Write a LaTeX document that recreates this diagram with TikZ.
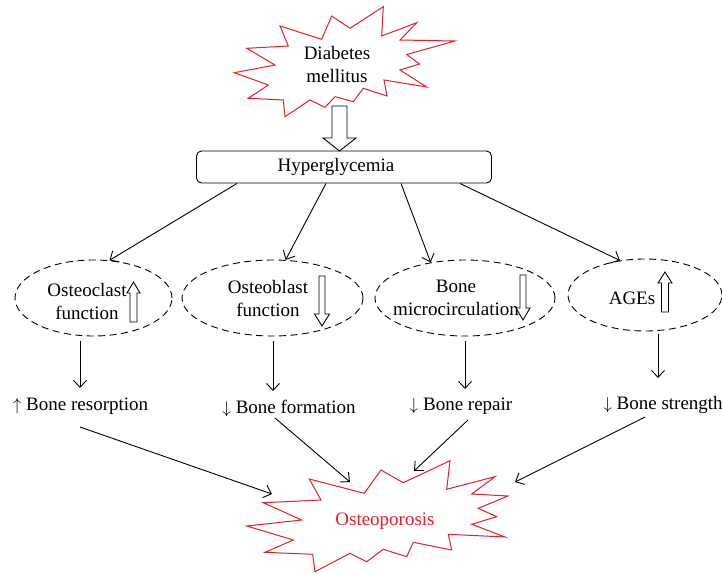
\documentclass[tikz,border=0pt]{standalone}
\usepackage{fontspec}
\setmainfont{Liberation Serif}
\usetikzlibrary{arrows.meta,shapes.geometric,calc}
\definecolor{burst}{RGB}{232,30,38}
\tikzset{
  arr/.style={line width=0.9pt,-{Straight Barb[length=7pt,width=13pt,line width=0.9pt]}},
  burstline/.style={draw=burst,line width=1pt,line join=miter,fill=white},
  dellipse/.style={ellipse,draw,dash pattern=on 7pt off 4.5pt,line width=0.9pt,inner sep=0pt},
  harrow/.style={draw,line width=0.9pt,fill=white,line join=miter},
  pics/blockarrow/.style args={#1,#2,#3,#4}{code={
    \path[harrow] (-#2/2,0) -- (#2/2,0) -- (#2/2,#1-#4) -- (#3/2,#1-#4) -- (0,#1)
      -- (-#3/2,#1-#4) -- (-#2/2,#1-#4) -- cycle;}},
  lbl/.style={inner sep=0pt,anchor=base},
  txt/.style={inner sep=0pt,align=center}
}
\begin{document}
\begin{tikzpicture}[x=1pt,y=-1pt,font=\fontsize{19}{23}\selectfont]
\useasboundingbox (0,0) rectangle (722,573);

% Diabetes mellitus starburst
\draw[burstline] (234.3,72.7) -- (275,65) -- (246.7,48.3) -- (288.3,46) -- (280,26)
  -- (321.7,39.3) -- (331.7,16) -- (350,28.3) -- (383.3,6.7) -- (381.7,36)
  -- (416.7,22.7) -- (400,40) -- (455,41) -- (406.7,54.5) -- (419.5,64) -- (400,70)
  -- (426.7,87) -- (384,80) -- (387,96) -- (363.3,88.3) -- (353.3,101.7)
  -- (335,96.7) -- (325,107.3) -- (310,100) -- (285,116.7) -- (283.3,100)
  -- (248.3,98.3) -- (268.3,85) -- cycle;
\node[txt] (dm) at (337,64) {Diabetes\\mellitus};

% block arrow to hyperglycemia
\pic at (339.5,106) {blockarrow={45,15,33,13}};

\node[draw,rounded corners=5pt,line width=0.9pt,minimum width=295pt,minimum height=32pt,inner sep=0pt]
  (hyp) at (344,167) {Hyperglycemia\hspace*{16pt}};

% ellipses
\node[dellipse,minimum width=157pt,minimum height=76pt] (e1) at (93.5,298) {};
\node[dellipse,minimum width=181pt,minimum height=76pt] (e2) at (272.5,298) {};
\node[dellipse,minimum width=180pt,minimum height=76pt] (e3) at (465,298) {};
\node[dellipse,minimum width=154pt,minimum height=72pt] (e4) at (645,295) {};

\node[txt] (t1) at (87,301) {Osteoclast\\function};
\node[txt] (t2) at (268,298) {Osteoblast\\function};
\node[txt] (t3) at (456,298) {Bone\\microcirculation};
\node[txt] (t4) at (632,298) {AGEs};

\pic[rotate=180] at (133.5,322) {blockarrow={40,7,13,11}};
\pic at (322,276) {blockarrow={50,6,15,12}};
\pic at (523,275) {blockarrow={45,6,14,12}};
\pic[rotate=180] at (665,312) {blockarrow={40,7,14,11}};

% arrows from hyperglycemia
\draw[arr] ([xshift=-107pt]hyp.south) -- (e1.67);
\draw[arr] ([xshift=-18pt]hyp.south) -- (e2.71);
\draw[arr] ([xshift=57pt]hyp.south) -- (e3.134);
\draw[arr] ([xshift=116pt]hyp.south) -- (e4.126);

% labels
\node[lbl] (l1) at (80.5,410) {$\uparrow$ Bone resorption};
\node[lbl] (l2) at (289,413) {$\downarrow$ Bone formation};
\node[lbl] (l3) at (461,410) {$\downarrow$ Bone repair};
\node[lbl] (l4) at (663,409) {$\downarrow$ Bone strength};

% vertical arrows
\draw[arr] (80,341) -- (80,388);
\draw[arr] (273,341) -- (273,391);
\draw[arr] (465,341) -- (465,389);
\draw[arr] (658,334) -- (658,378);

% Osteoporosis starburst
\draw[burstline] (246.7,526) -- (301.7,520) -- (263.3,502.7) -- (321,500) -- (309.3,479)
  -- (364.3,493.3) -- (381,470) -- (403.3,482.7) -- (450,460.7) -- (446.7,489.3)
  -- (495,476.7) -- (471.7,494) -- (508,496) -- (478.3,508.3) -- (496.7,516.7)
  -- (471.7,524.3) -- (505,537) -- (448.3,534.3) -- (451.7,550) -- (413.3,542.3)
  -- (406.7,556.7) -- (383.3,549.3) -- (366.7,561.7) -- (350,553.3) -- (315,571.7)
  -- (312.7,554.3) -- (265,552.3) -- (293.3,540) -- cycle;
\node[txt,text=burst] (op) at (385,521) {Osteoporosis};

% arrows to osteoporosis
\draw[arr] (80,427) -- (272,494);
\draw[arr] (275,418) -- (350,482);
\draw[arr] (468,420) -- (414,471);
\draw[arr] (645,417) -- (515,482);
\end{tikzpicture}
\end{document}
